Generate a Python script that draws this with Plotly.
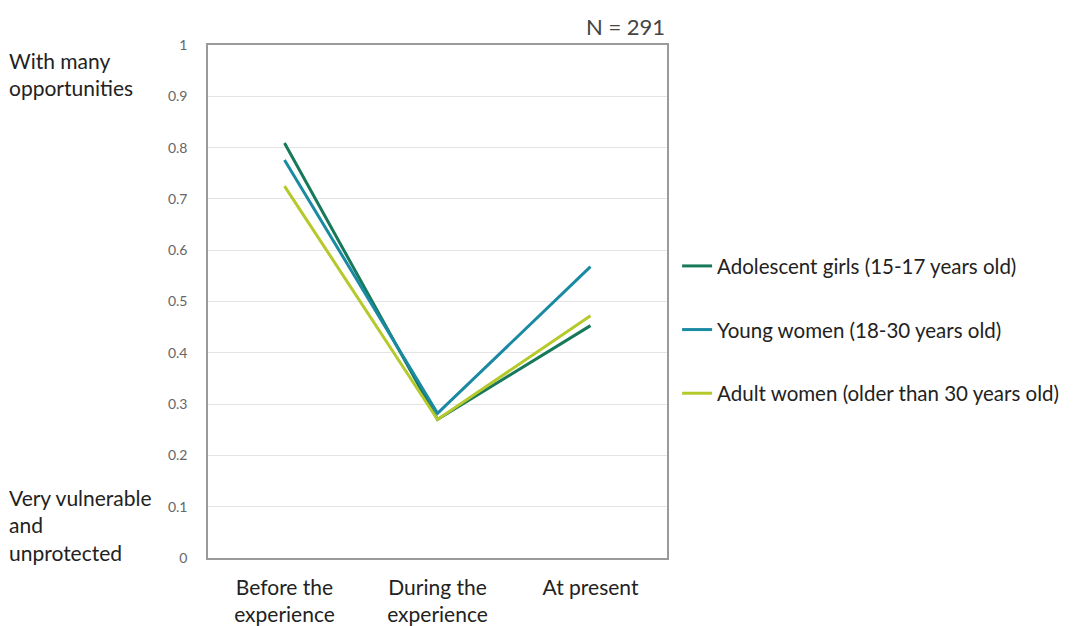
import plotly.graph_objects as go

# Stages of the migration experience (x categories)
stages = ["Before the<br>experience", "During the<br>experience", "At present"]

# Perceived situation index (0 = very vulnerable, 1 = many opportunities)
adolescent_girls = [0.809, 0.270, 0.453]
young_women = [0.776, 0.282, 0.568]
adult_women = [0.725, 0.270, 0.472]

series_names = [
    "Adolescent girls (15-17 years old)",
    "Young women (18-30 years old)",
    "Adult women (older than 30 years old)",
]
series_values = [adolescent_girls, young_women, adult_women]
series_colors = ["#17785a", "#1a8aa3", "#b5c92a"]

y_ticks = [0, 0.1, 0.2, 0.3, 0.4, 0.5, 0.6, 0.7, 0.8, 0.9, 1]
y_tick_text = ["0", "0.1", "0.2", "0.3", "0.4", "0.5", "0.6", "0.7", "0.8", "0.9", "1"]

fig = go.Figure()
for i, (name, vals, col) in enumerate(zip(series_names, series_values, series_colors)):
    fig.add_trace(go.Scatter(
        x=stages, y=vals, mode="lines", name=name,
        line=dict(color=col, width=3),
        legendgroup=f"g{i}",
    ))

fig.update_layout(
    width=1076, height=626,
    margin=dict(l=208, r=409, t=45, b=68, autoexpand=False),
    paper_bgcolor="white", plot_bgcolor="white",
    font=dict(family="Lato, Open Sans, sans-serif", color="#222"),
    showlegend=True,
    legend=dict(
        x=1.022, y=0.608, xanchor="left", yanchor="top",
        font=dict(size=20.5, color="#222"),
        tracegroupgap=34, itemwidth=30,
        bgcolor="rgba(0,0,0,0)",
    ),
    xaxis=dict(
        showgrid=False, showline=True, mirror=True,
        linecolor="#9a9a9a", linewidth=1.5,
        tickfont=dict(size=21, color="#222"),
        ticks="", range=[-0.5, 2.5], ticklabelstandoff=10,
        automargin=False,
    ),
    yaxis=dict(
        range=[0, 1], tickvals=y_ticks, ticktext=y_tick_text,
        showgrid=True, gridcolor="#e3e3e3", gridwidth=1,
        showline=True, mirror=True, linecolor="#9a9a9a", linewidth=1.5,
        tickfont=dict(size=14, color="#666"), ticks="",
        ticklabelstandoff=16, zeroline=False, automargin=False,
    ),
)

fig.add_annotation(
    text="N = 291", xref="paper", yref="paper", x=1.0, y=1.0,
    xanchor="right", yanchor="bottom", showarrow=False,
    font=dict(size=22, color="#444"), yshift=3,
)
fig.add_annotation(
    text="With many<br>opportunities", xref="paper", yref="paper",
    x=-0.437, y=0.999, xanchor="left", yanchor="top", align="left",
    showarrow=False, font=dict(size=21, color="#222"),
)
fig.add_annotation(
    text="Very vulnerable<br>and<br>unprotected", xref="paper", yref="paper",
    x=-0.437, y=0.147, xanchor="left", yanchor="top", align="left",
    showarrow=False, font=dict(size=21, color="#222"),
)

fig.write_html("out.html")
